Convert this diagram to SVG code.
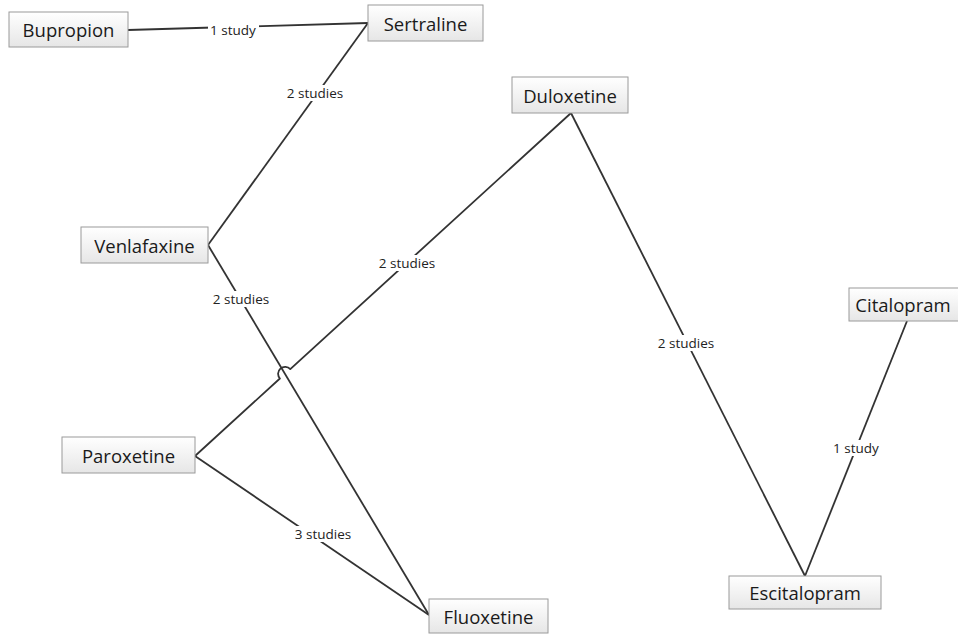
<svg xmlns="http://www.w3.org/2000/svg" width="958" height="634" viewBox="0 0 958 634">
  <style>
    .node rect { fill: url(#boxFill); stroke: #9a9a9a; stroke-width: 1; }
    .node text { font-family: "Open Sans", "Liberation Sans", sans-serif; font-size: 18.5px; fill: #1a1a1a; text-anchor: middle; dominant-baseline: central; }
    .edge { fill: none; stroke: #333333; stroke-width: 1.8; stroke-linejoin: round; }
    .lbl rect { fill: #ffffff; }
    .lbl text { font-family: "Open Sans", "Liberation Sans", sans-serif; font-size: 13.5px; fill: #222222; text-anchor: middle; dominant-baseline: central; }
  </style>
  <defs>
    <linearGradient id="boxFill" x1="0" y1="0" x2="0" y2="1">
      <stop offset="0" stop-color="#ffffff"/>
      <stop offset="1" stop-color="#e6e6e6"/>
    </linearGradient>
  </defs>
  <rect width="958" height="634" fill="#ffffff"/>

  <!-- links between drugs, each with a white-backed count label -->
  <g id="connectors">
    <path class="edge" d="M128,30 L368,23"/>
    <path class="edge" d="M368,23 L208,245"/>
    <path class="edge" d="M208,245 L429,615"/>
    <path class="edge" d="M571,113 L290.3,369.1 A7,7 0 0 0 279.9,378.5 L195,456"/>
    <path class="edge" d="M571,113 L805,576"/>
    <path class="edge" d="M907,321 L805,576"/>
    <path class="edge" d="M195,456 L429,615"/>

    <g class="lbl"><rect x="208" y="22" width="51" height="16"/><text x="233" y="30">1 study</text></g>
    <g class="lbl"><rect x="282" y="85" width="66" height="16"/><text x="315" y="93">2 studies</text></g>
    <g class="lbl"><rect x="208" y="291" width="66" height="16"/><text x="241" y="299">2 studies</text></g>
    <g class="lbl"><rect x="374" y="255" width="66" height="16"/><text x="407" y="263">2 studies</text></g>
    <g class="lbl"><rect x="653" y="335" width="66" height="16"/><text x="686" y="343">2 studies</text></g>
    <g class="lbl"><rect x="831" y="440" width="51" height="16"/><text x="856" y="448">1 study</text></g>
    <g class="lbl"><rect x="290" y="526" width="66" height="16"/><text x="323" y="534">3 studies</text></g>
  </g>

  <g id="bupropion" class="node"><rect x="9" y="12" width="119" height="35"/><text x="68.5" y="29.5">Bupropion</text></g>
  <g id="sertraline" class="node"><rect x="368" y="5" width="115" height="36"/><text x="425.5" y="23">Sertraline</text></g>
  <g id="duloxetine" class="node"><rect x="512" y="77" width="116" height="36"/><text x="570" y="95">Duloxetine</text></g>
  <g id="venlafaxine" class="node"><rect x="81" y="227" width="127" height="36"/><text x="144.5" y="245">Venlafaxine</text></g>
  <g id="citalopram" class="node"><rect x="849" y="288" width="115" height="33"/><text x="903" y="304.5">Citalopram</text></g>
  <g id="paroxetine" class="node"><rect x="62" y="437" width="133" height="36"/><text x="128.5" y="455">Paroxetine</text></g>
  <g id="escitalopram" class="node"><rect x="729" y="576" width="152" height="33"/><text x="805" y="592.5">Escitalopram</text></g>
  <g id="fluoxetine" class="node"><rect x="429" y="599" width="119" height="34"/><text x="488.5" y="616">Fluoxetine</text></g>
</svg>
